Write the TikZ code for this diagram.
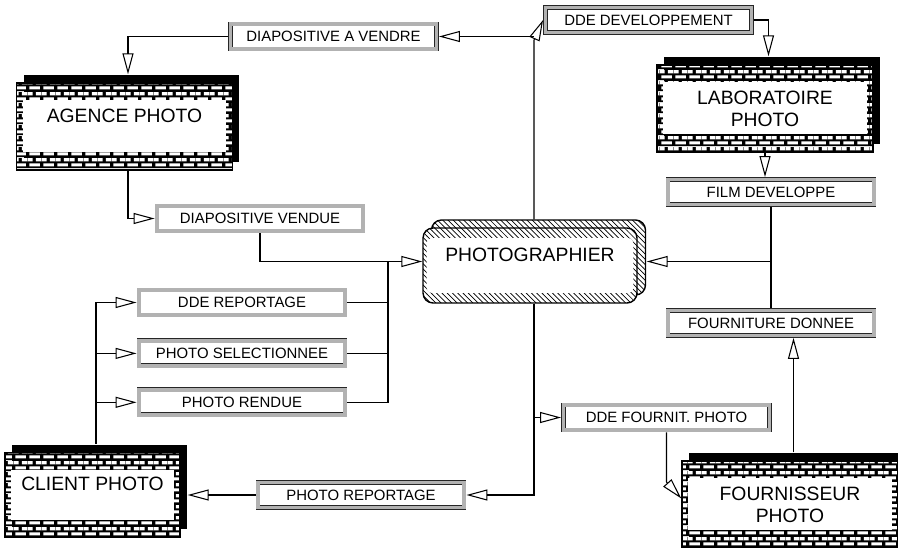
\documentclass[tikz,border=0pt]{standalone}
\usepackage{fontspec}
\setmainfont{Liberation Sans}
\usepackage{tikz}
\usetikzlibrary{arrows.meta,positioning,patterns,shadows}

% black wall with white bricks for the entity frames
\pgfdeclarepatterninherentlycolored{brickwall}{\pgfpointorigin}{\pgfpoint{8pt}{6pt}}{\pgfpoint{8pt}{6pt}}{%
  \pgfsetfillcolor{black}
  \pgfpathrectangle{\pgfpointorigin}{\pgfpoint{8pt}{6pt}}\pgfusepath{fill}
  \pgfsetfillcolor{white}
  \pgfpathrectangle{\pgfpoint{0.8pt}{0.9pt}}{\pgfpoint{6.4pt}{1.9pt}}\pgfusepath{fill}
  \pgfpathrectangle{\pgfpoint{0pt}{3.9pt}}{\pgfpoint{2.8pt}{1.9pt}}\pgfusepath{fill}
  \pgfpathrectangle{\pgfpoint{4.8pt}{3.9pt}}{\pgfpoint{3.2pt}{1.9pt}}\pgfusepath{fill}
}

\begin{document}
\begin{tikzpicture}[
    x=0.02cm, y=-0.02cm,
    entity/.style={rectangle, draw, line width=0.8pt, pattern=brickwall, minimum width=4.32cm, minimum height=1.74cm, align=center, font=\fontsize{11}{12.5}\selectfont,
        general shadow={fill=black, shadow xshift=0.14cm, shadow yshift=0.16cm},
        path picture={\fill[white] ([shift={(0.12cm,0.36cm)}]path picture bounding box.south west) rectangle ([shift={(-0.12cm,-0.34cm)}]path picture bounding box.north east);}},
    process/.style={rectangle, rounded corners=0.2cm, draw, line width=0.8pt, minimum width=4.28cm, minimum height=1.5cm, align=center, font=\fontsize{11}{12.5}\selectfont,
        general shadow={draw, line width=0.8pt, pattern=north west lines, shadow xshift=0.17cm, shadow yshift=0.16cm},
        preaction={fill=white}, pattern=north west lines,
        path picture={\fill[white, rounded corners=0.12cm] ([shift={(0.07cm,0.2cm)}]path picture bounding box.south west) rectangle ([shift={(-0.07cm,-0.2cm)}]path picture bounding box.north east);}},
    flow/.style={rectangle, draw=black!85, double=gray!60, double distance=2pt, fill=white, minimum width=4.12cm, minimum height=0.5cm, outer sep=1.4pt, inner sep=1pt, font=\fontsize{8.5}{10}\selectfont},
    arrow/.style={-{Triangle[open, length=4.2mm, width=2.2mm]}, line width=0.6pt},
    link/.style={line width=0.6pt},
]
    \useasboundingbox (0,0) rectangle (898,547);
    \clip (0,0) rectangle (898,547);

    % Entities
    \node[entity] (agence) at (124.5,126.5) {AGENCE PHOTO\\\mbox{}};
    \node[entity] (labo) at (765,108.5) {LABORATOIRE\\PHOTO};
    \node[entity, minimum width=3.5cm, minimum height=1.7cm] (client) at (92.5,495) {CLIENT PHOTO\\\mbox{}};
    \node[entity] (fourn) at (790,504.5) {FOURNISSEUR\\PHOTO};
    \node[process] (photo) at (530,265.5) {PHOTOGRAPHIER\\\mbox{}};

    % Flows
    \node[flow] (vendre) at (333.5,36.5) {DIAPOSITIVE A VENDRE};
    \node[flow] (devel) at (648.5,20) {DDE DEVELOPPEMENT};
    \node[flow] (vendue) at (260,218.5) {DIAPOSITIVE VENDUE};
    \node[flow] (reportage) at (242,302.5) {DDE REPORTAGE};
    \node[flow, below=0.42cm of reportage] (selection) {PHOTO SELECTIONNEE};
    \node[flow, below=0.38cm of selection] (rendue) {PHOTO RENDUE};
    \node[flow] (photorep) at (361,495) {PHOTO REPORTAGE};
    \node[flow] (fournit) at (666.5,417.5) {DDE FOURNIT. PHOTO};
    \node[flow] (film) at (771,192) {FILM DEVELOPPE};
    \node[flow, below=2.02cm of film] (donnee) {FOURNITURE DONNEE};

    % Bends
    \coordinate (up) at (534,40);
    \coordinate (merge) at (388,261.5);
    \coordinate (knee) at (666.5,482);
    \coordinate (fup) at ([shift={(3.5,-8)}]fourn.north);
    \coordinate (pe) at ([shift={(9,-4)}]photo.east);

    % Photographe -> laboratoire, agence
    \draw[arrow] ([shift={(4,-8)}]photo.north) -- (up) -- (devel.west);
    \draw[arrow] (vendre.east -| up) -- (vendre.east);
    \draw[arrow] (vendre.west) -| ([shift={(3.5,-8)}]agence.north);
    \draw[arrow] ([shift={(3.5,0)}]agence.south) |- (vendue.west);
    \draw[arrow] (vendue.south) |- ([shift={(0,-4)}]photo.west);
    \draw[arrow] (devel.east) -| ([shift={(3.5,-8)}]labo.north);
    \draw[arrow] (labo.south) -- (labo.south |- film.north);

    % Client
    \draw[arrow] ([shift={(3.5,-8)}]client.north) |- (reportage.west);
    \draw[arrow] ([shift={(3.5,-8)}]client.north) |- (selection.west);
    \draw[arrow] ([shift={(3.5,-8)}]client.north) |- (rendue.west);
    \draw[link] (reportage.east) -| (merge);
    \draw[link] (selection.east) -| (merge);
    \draw[link] (rendue.east) -| (merge);
    \draw[arrow] ([shift={(4,0)}]photo.south) |- (photorep.east);
    \draw[arrow] (photorep.west) -- ([shift={(7,0)}]client.east);

    % Fournisseur
    \draw[arrow] ([shift={(4,0)}]photo.south) |- (fournit.west);
    \draw[arrow] (fournit.south) -- (knee) -- ([shift={(0,-6)}]fourn.west);
    \draw[arrow] (fup) -- (fup |- donnee.south);
    \draw[link] (film.south) -- (donnee.north);
    \draw[arrow] (film.south |- pe) -- (pe);
\end{tikzpicture}
\end{document}
